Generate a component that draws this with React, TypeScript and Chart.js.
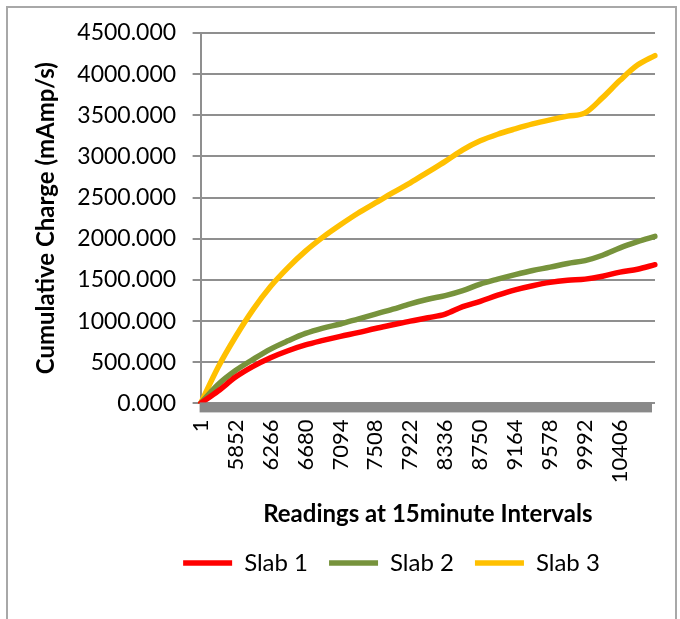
import React, { useEffect, useRef } from 'react';
import { Chart, registerables } from 'chart.js';

Chart.register(...registerables);

// Category labels (readings at 15 minute intervals); every other one is shown
const readings = [
  '1', '5645', '5852', '6059', '6266', '6473', '6680', '6887', '7094', '7301',
  '7508', '7715', '7922', '8129', '8336', '8543', '8750', '8957', '9164', '9371',
  '9578', '9785', '9992', '10199', '10406', '10613', '10820',
];

const slab1 = [
  0, 150, 320, 450, 555, 640, 710, 765, 815, 860,
  910, 955, 1000, 1040, 1085, 1175, 1240, 1315, 1380, 1430,
  1470, 1495, 1510, 1545, 1595, 1630, 1685,
];

const slab2 = [
  0, 230, 400, 535, 660, 760, 850, 915, 965, 1025,
  1085, 1145, 1210, 1265, 1310, 1370, 1450, 1510, 1565, 1615,
  1655, 1700, 1735, 1800, 1890, 1965, 2030,
];

const slab3 = [
  0, 440, 810, 1140, 1420, 1650, 1850, 2020, 2170, 2310,
  2435, 2560, 2680, 2810, 2940, 3080, 3190, 3270, 3335, 3395,
  3445, 3490, 3530, 3715, 3925, 4110, 4225,
];

const seriesNames = ['Slab 1', 'Slab 2', 'Slab 3'];
const seriesColors = ['#FF0000', '#77933C', '#FFC000'];
const yMin = 0;
const yMax = 4500;
const yStep = 500;

const FONT = "Lato, 'Open Sans', sans-serif";

const axisBar = {
  id: 'axisBar',
  afterDatasetsDraw(chart: any) {
    const { ctx, chartArea } = chart;
    ctx.save();
    ctx.fillStyle = '#898989';
    ctx.fillRect(chartArea.left - 1, chartArea.bottom - 1, chartArea.right - chartArea.left - 2, 10);
    ctx.restore();
  },
};

const legendShift = {
  id: 'legendShift',
  afterUpdate(chart: any) {
    const l = chart.legend;
    if (l) {
      l.left += 51;
      l.right += 51;
    }
  },
};

export default function App() {
  const ref = useRef<HTMLCanvasElement>(null);

  useEffect(() => {
    if (!ref.current) return;
    const all = [slab1, slab2, slab3];
    const chart = new Chart(ref.current, {
      type: 'line',
      data: {
        labels: readings,
        datasets: all.map((d, i) => ({
          label: seriesNames[i],
          data: d,
          borderColor: seriesColors[i],
          backgroundColor: seriesColors[i],
          borderWidth: 5.5,
          borderCapStyle: 'round',
          borderJoinStyle: 'round',
          pointRadius: 0,
          cubicInterpolationMode: 'monotone',
          fill: false,
        })),
      },
      options: {
        responsive: false,
        animation: false,
        layout: { padding: { top: 33, left: 26, right: 25, bottom: 34 } },
        plugins: {
          tooltip: { enabled: false },
          legend: {
            position: 'bottom',
            labels: {
              usePointStyle: true,
              pointStyle: 'line',
              pointStyleWidth: 49,
              padding: 21,
              color: '#000',
              font: { family: FONT, size: 24 },
            },
          },
        },
        scales: {
          x: {
            type: 'category',
            offset: false,
            grid: { display: false, drawTicks: false },
            border: { display: false },
            ticks: {
              autoSkip: false,
              maxRotation: 90,
              minRotation: 90,
              padding: 16,
              color: '#000',
              font: { family: FONT, size: 22, lineHeight: 0.3 },
              callback: function (this: any, value: any, index: number) {
                return index % 2 === 0 && index <= 24 ? this.getLabelForValue(value) : '';
              },
            },
            title: {
              display: true,
              text: 'Readings at 15minute Intervals',
              color: '#000',
              font: { family: FONT, size: 24, weight: 'bold' },
              padding: { top: 1, bottom: 1 },
            },
          },
          y: {
            min: yMin,
            max: yMax,
            grid: { color: '#8f8f8f', lineWidth: 2, tickLength: 8 },
            border: { color: '#8f8f8f', width: 2 },
            ticks: {
              stepSize: yStep,
              padding: 16.5,
              color: '#000',
              font: { family: FONT, size: 23 },
              callback: (v: any) => Number(v).toFixed(3),
            },
            title: {
              display: true,
              text: 'Cumulative Charge (mAmp/s)',
              color: '#000',
              font: { family: FONT, size: 24, weight: 'bold' },
              padding: { top: 6, bottom: 0 },
            },
          },
        },
      },
      plugins: [axisBar, legendShift],
    } as any);
    return () => chart.destroy();
  }, []);

  return (
    <div style={{ position: 'fixed', left: 0, top: 0, width: 680, height: 619, background: '#fff', overflow: 'hidden' }}>
      <div
        style={{
          position: 'absolute',
          left: 6,
          top: 6,
          width: 671,
          height: 700,
          boxSizing: 'border-box',
          border: '2px solid #a8a8a8',
        }}
      />
      <canvas ref={ref} width={680} height={619} style={{ position: 'absolute', left: 0, top: 0, width: 680, height: 619 }} />
    </div>
  );
}
